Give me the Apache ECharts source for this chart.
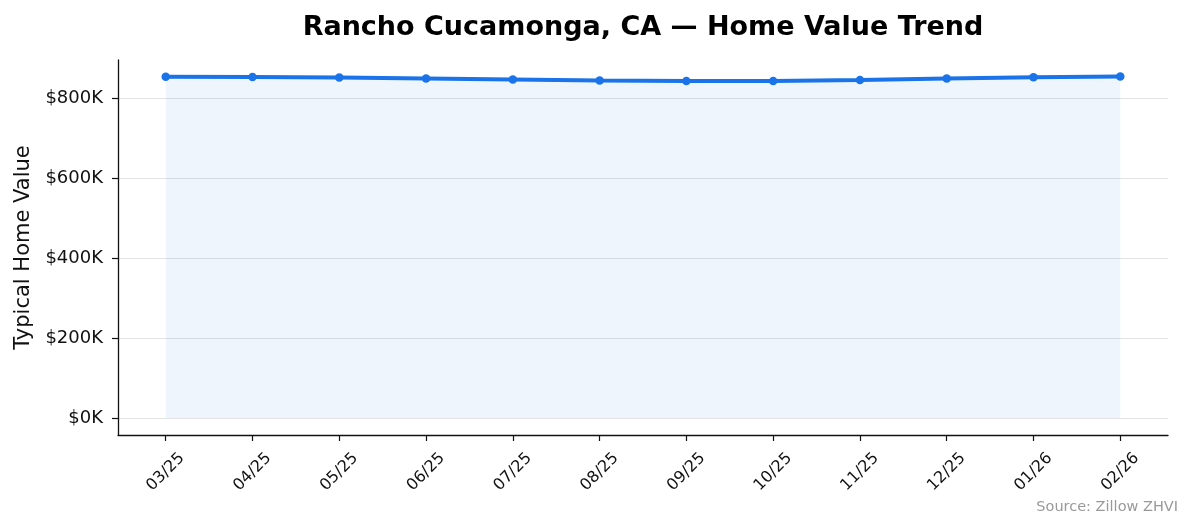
<!DOCTYPE html>
<html><head><meta charset="utf-8">
<script src="https://cdn.jsdelivr.net/npm/echarts@6/dist/echarts.min.js"></script>
<style>html,body{margin:0;padding:0;background:#fff}#c{width:1194px;height:529px}</style>
</head><body><div id="c"></div>
<script>
const categories = ['03/25','04/25','05/25','06/25','07/25','08/25','09/25','10/25','11/25','12/25','01/26','02/26'];
const homeValues = [853000, 852500, 851000, 848500, 846000, 843500, 842500, 842500, 845000, 848500, 852000, 853500];
const yTicks = [0, 200000, 400000, 600000, 800000];
const xTicks = categories.map((c, i) => i);

const chart = echarts.init(document.getElementById('c'), null, {renderer: 'canvas'});
const font = 'DejaVu Sans';
chart.setOption({
  animation: false,
  backgroundColor: '#fff',
  title: {
    text: 'Rancho Cucamonga, CA — Home Value Trend',
    left: 638, top: 9, textAlign: 'center',
    textStyle: {fontFamily: font, fontSize: 27, fontWeight: 'bold', color: '#000'}
  },
  graphic: [{
    type: 'text', right: 16, top: 500,
    style: {text: 'Source: Zillow ZHVI', fontFamily: font, fontSize: 14.5, fill: '#999'}
  }],
  grid: {left: 118, right: 26, top: 60, bottom: 94, containLabel: false},
  xAxis: {
    type: 'value', min: -0.55, max: 11.55,
    axisLine: {show: true, onZero: false, lineStyle: {color: '#111', width: 1.3}},
    axisTick: {show: true, customValues: xTicks, length: 6, lineStyle: {color: '#111', width: 1.2}},
    axisLabel: {customValues: xTicks, rotate: 45, align: 'center', verticalAlign: 'middle',
      fontFamily: font, fontSize: 16, color: '#111', margin: 37,
      formatter: v => categories[Math.round(v)]},
    splitLine: {show: false}
  },
  yAxis: {
    type: 'value', min: -42500, max: 895000,
    name: 'Typical Home Value', nameLocation: 'middle', nameGap: 84, nameRotate: 90,
    nameTextStyle: {fontFamily: font, fontSize: 21, color: '#111'},
    axisLine: {show: true, onZero: false, lineStyle: {color: '#111', width: 1.3}},
    axisTick: {show: true, customValues: yTicks, length: 6, lineStyle: {color: '#111', width: 1.2}},
    axisLabel: {customValues: yTicks, fontFamily: font, fontSize: 18, color: '#111', margin: 15,
      formatter: v => '$' + Math.round(v / 1000) + 'K'},
    splitLine: {show: true, lineStyle: {color: '#e3e3e3', width: 1.2}}
  },
  series: [{
    type: 'line',
    data: homeValues.map((v, i) => [i, v]),
    symbol: 'circle', symbolSize: 8.5,
    lineStyle: {color: '#1a73e8', width: 4},
    itemStyle: {color: '#1a73e8'},
    areaStyle: {color: 'rgba(26,115,232,0.1)', origin: 0},
    z: 3
  }]
});
</script></body></html>
